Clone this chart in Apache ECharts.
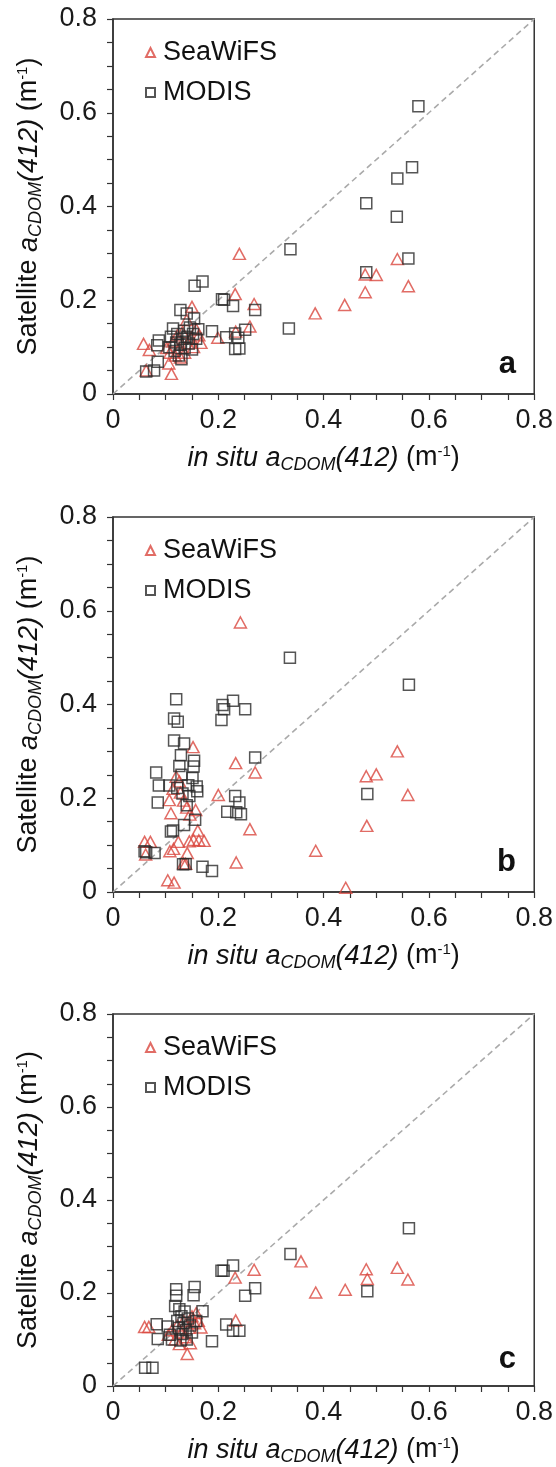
<!DOCTYPE html>
<html>
<head>
<meta charset="utf-8">
<script src="https://cdn.jsdelivr.net/npm/echarts@6/dist/echarts.min.js"></script>
<style>
  html, body { margin: 0; padding: 0; background: #fff; }
  #chart { width: 556px; height: 1467px; }
</style>
</head>
<body>
<div id="chart"></div>
<script>
// ---- Data (x = in situ aCDOM(412), y = satellite aCDOM(412), m^-1) ----
const panelLetters = ['a', 'b', 'c'];
const seriesNames = ['SeaWiFS', 'MODIS'];
const axisTicks = [0, 0.2, 0.4, 0.6, 0.8];
const oneToOne = [[0, 0], [0.8, 0.8]];

const seawifsA = [[0.058,0.107],[0.069,0.094],[0.063,0.050],[0.106,0.065],[0.111,0.043],[0.102,0.098],[0.108,0.088],[0.114,0.112],[0.118,0.082],[0.122,0.125],[0.126,0.098],[0.132,0.132],[0.136,0.088],[0.140,0.158],[0.142,0.108],[0.148,0.120],[0.150,0.186],[0.153,0.100],[0.158,0.138],[0.163,0.125],[0.167,0.109],[0.128,0.078],[0.199,0.120],[0.233,0.133],[0.232,0.213],[0.240,0.299],[0.260,0.144],[0.268,0.192],[0.384,0.172],[0.440,0.190],[0.479,0.217],[0.479,0.255],[0.500,0.254],[0.540,0.288],[0.561,0.230]];
const modisA = [[0.063,0.048],[0.078,0.050],[0.085,0.069],[0.084,0.104],[0.087,0.114],[0.107,0.100],[0.110,0.122],[0.114,0.140],[0.117,0.092],[0.120,0.110],[0.122,0.128],[0.125,0.082],[0.128,0.179],[0.128,0.105],[0.130,0.074],[0.132,0.118],[0.135,0.135],[0.136,0.098],[0.140,0.172],[0.140,0.122],[0.144,0.108],[0.146,0.142],[0.150,0.095],[0.152,0.128],[0.154,0.161],[0.155,0.231],[0.158,0.118],[0.162,0.138],[0.170,0.240],[0.188,0.134],[0.207,0.202],[0.211,0.201],[0.215,0.121],[0.228,0.188],[0.232,0.129],[0.232,0.096],[0.240,0.097],[0.238,0.120],[0.251,0.137],[0.270,0.179],[0.334,0.140],[0.337,0.309],[0.481,0.260],[0.481,0.407],[0.539,0.378],[0.540,0.460],[0.561,0.289],[0.568,0.484],[0.580,0.614]];

const seawifsB = [[0.060,0.107],[0.071,0.107],[0.062,0.080],[0.104,0.025],[0.116,0.020],[0.108,0.087],[0.115,0.092],[0.124,0.107],[0.141,0.083],[0.134,0.061],[0.138,0.060],[0.145,0.108],[0.153,0.111],[0.161,0.131],[0.163,0.110],[0.173,0.109],[0.157,0.175],[0.110,0.168],[0.107,0.196],[0.114,0.220],[0.120,0.246],[0.126,0.236],[0.128,0.212],[0.134,0.195],[0.140,0.180],[0.146,0.165],[0.152,0.309],[0.200,0.207],[0.233,0.275],[0.234,0.063],[0.242,0.575],[0.260,0.134],[0.270,0.255],[0.385,0.088],[0.442,0.009],[0.481,0.247],[0.482,0.141],[0.500,0.251],[0.540,0.300],[0.560,0.207]];
const modisB = [[0.060,0.087],[0.079,0.083],[0.063,0.085],[0.082,0.255],[0.087,0.227],[0.085,0.191],[0.107,0.227],[0.110,0.129],[0.114,0.131],[0.116,0.370],[0.120,0.411],[0.123,0.363],[0.116,0.323],[0.122,0.222],[0.126,0.269],[0.129,0.292],[0.132,0.210],[0.133,0.059],[0.135,0.317],[0.135,0.143],[0.138,0.060],[0.130,0.250],[0.140,0.185],[0.143,0.228],[0.145,0.205],[0.151,0.243],[0.154,0.280],[0.153,0.268],[0.156,0.154],[0.159,0.225],[0.160,0.215],[0.170,0.054],[0.188,0.045],[0.206,0.367],[0.208,0.399],[0.211,0.390],[0.217,0.171],[0.228,0.408],[0.232,0.205],[0.234,0.170],[0.240,0.191],[0.243,0.166],[0.251,0.390],[0.270,0.287],[0.336,0.500],[0.483,0.209],[0.562,0.442]];

const seawifsC = [[0.060,0.127],[0.068,0.127],[0.105,0.110],[0.112,0.120],[0.118,0.100],[0.122,0.130],[0.126,0.090],[0.130,0.115],[0.134,0.140],[0.138,0.105],[0.141,0.069],[0.144,0.125],[0.147,0.092],[0.150,0.150],[0.155,0.135],[0.158,0.157],[0.162,0.140],[0.167,0.126],[0.232,0.233],[0.233,0.141],[0.268,0.250],[0.357,0.268],[0.385,0.201],[0.441,0.207],[0.481,0.251],[0.483,0.230],[0.540,0.254],[0.560,0.229]];
const modisC = [[0.061,0.039],[0.075,0.039],[0.083,0.133],[0.085,0.101],[0.104,0.128],[0.108,0.110],[0.112,0.100],[0.118,0.172],[0.120,0.194],[0.120,0.208],[0.122,0.140],[0.125,0.125],[0.126,0.165],[0.128,0.098],[0.130,0.150],[0.132,0.112],[0.134,0.135],[0.136,0.160],[0.138,0.120],[0.140,0.100],[0.142,0.145],[0.146,0.130],[0.150,0.115],[0.153,0.195],[0.155,0.213],[0.158,0.140],[0.170,0.161],[0.188,0.096],[0.206,0.248],[0.210,0.248],[0.215,0.132],[0.228,0.259],[0.228,0.119],[0.240,0.119],[0.251,0.194],[0.270,0.210],[0.337,0.284],[0.483,0.204],[0.562,0.339]];

const seawifsPanels = [seawifsA, seawifsB, seawifsC];
const modisPanels = [modisA, modisB, modisC];

// ---- Layout / style ----
const FONT = '"Liberation Sans", Arial, Helvetica, sans-serif';
const RED = '#d9473f';
const BLK = '#2b2b2b';
const GRID_LEFT = 113, GRID_W = 426, GRID_H = 375;
const GRID_TOPS = [19, 517, 1014];

const richName = {
  it: { fontStyle: 'italic', fontSize: 27, fontFamily: FONT, color: '#111' },
  n: { fontSize: 27, fontFamily: FONT, color: '#111' },
  sub: { fontStyle: 'italic', fontSize: 18, fontFamily: FONT, color: '#111', padding: [14, 0, 0, 0] },
  sup: { fontSize: 15, fontFamily: FONT, color: '#111', padding: [0, 0, 12, 0] }
};

const chart = echarts.init(document.getElementById('chart'), null, { renderer: 'canvas' });

const grids = [], xAxes = [], yAxes = [], series = [], legends = [], graphics = [];

function axisCommon(gi, margin) {
  return {
    type: 'value', gridIndex: gi, min: axisTicks[0], max: axisTicks[axisTicks.length - 1], interval: 0.2,
    axisLine: { show: true, onZero: false, lineStyle: { color: '#333', width: 1.5 } },
    axisTick: { show: true, inside: false, length: 6, lineStyle: { color: '#333', width: 1.2 } },
    minorTick: { show: true, splitNumber: 4, length: 6, lineStyle: { color: '#333', width: 1.2 } },
    splitLine: { show: false },
    axisLabel: { fontSize: 27, fontFamily: FONT, color: '#1a1a1a', margin: margin,
      formatter: v => (Math.abs(v) < 1e-9 ? '0' : v.toFixed(1)) }
  };
}

for (let i = 0; i < 3; i++) {
  grids.push({ left: GRID_LEFT, top: GRID_TOPS[i], width: GRID_W, height: GRID_H,
    show: true, borderColor: '#333', borderWidth: 1.5, backgroundColor: 'transparent' });

  xAxes.push(Object.assign(axisCommon(i, 13), {
    name: '{it|in situ a}{sub|CDOM}{it|(412)}{n| (m}{sup|-1}{n|)}',
    nameLocation: 'middle', nameGap: 48,
    nameTextStyle: { fontSize: 27, fontFamily: FONT, rich: richName }
  }));
  yAxes.push(Object.assign(axisCommon(i, 16), {
    name: '{n|Satellite }{it|a}{sub|CDOM}{it|(412)}{n| (m}{sup|-1}{n|)}',
    nameLocation: 'middle', nameGap: 68, nameRotate: 90,
    nameTextStyle: { fontSize: 27, fontFamily: FONT, rich: richName }
  }));

  series.push({
    type: 'line', xAxisIndex: i, yAxisIndex: i, data: oneToOne, symbol: 'none', silent: true,
    lineStyle: { color: '#aaaaaa', width: 1.6, type: [6, 4] }, z: 1
  });
  series.push({
    name: seriesNames[0], type: 'scatter', xAxisIndex: i, yAxisIndex: i, data: seawifsPanels[i],
    symbol: 'triangle', symbolSize: [12, 11],
    itemStyle: { color: 'rgba(255,255,255,0)', borderColor: RED, borderWidth: 1.5 }, z: 2
  });
  series.push({
    name: seriesNames[1], type: 'scatter', xAxisIndex: i, yAxisIndex: i, data: modisPanels[i],
    symbol: 'rect', symbolSize: 11,
    itemStyle: { color: 'rgba(255,255,255,0)', borderColor: BLK, borderWidth: 1.5 }, z: 3
  });

  legends.push({
    data: seriesNames, orient: 'vertical', left: GRID_LEFT + 27, top: GRID_TOPS[i] + 15,
    itemWidth: 9, itemHeight: 9, itemGap: 13, selectedMode: false,
    textStyle: { fontSize: 27, fontFamily: FONT, color: '#111', padding: [0, 0, 0, 3] }
  });

  graphics.push({
    type: 'text', right: 556 - (GRID_LEFT + GRID_W) + 23, top: GRID_TOPS[i] + GRID_H - 45,
    style: { text: panelLetters[i], font: 'bold 31px ' + FONT, fill: '#111' }
  });
}

chart.setOption({
  animation: false,
  backgroundColor: '#ffffff',
  grid: grids, xAxis: xAxes, yAxis: yAxes, series: series, legend: legends, graphic: graphics
});
</script>
</body>
</html>
